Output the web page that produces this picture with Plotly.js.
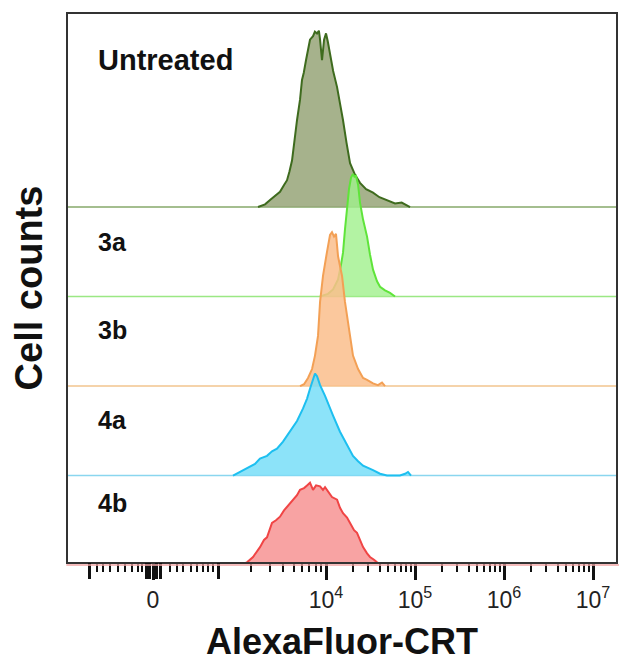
<!DOCTYPE html>
<html><head><meta charset="utf-8">
<script src="https://cdn.plot.ly/plotly-3.0.1.min.js"></script>
<style>html,body{margin:0;padding:0;background:#fff}#chart{width:619px;height:662px}</style>
</head><body><div id="chart"></div>
<script>
// Sample names (top to bottom)
const sampleNames = ["Untreated", "3a", "3b", "4a", "4b"];

// x values are in display decades (4 = 10^4), counts are relative cell counts
const untreatedX = [3.236,3.315,3.371,3.42,3.483,3.53,3.562,3.59,3.618,3.674,3.708,3.730,3.75,3.775,3.80,3.820,3.854,3.875,3.899,3.92,3.933,3.955,3.978,4.0,4.02,4.045,4.08,4.124,4.16,4.191,4.23,4.270,4.326,4.382,4.45,4.528,4.60,4.685,4.775,4.85,4.910,4.944];
const untreatedCounts = [0,3,8,12,17,25,30,40,52,97,120,142,150,164,178,187,191,196,194,197,187,164,187,194,185,172,152,134,115,97,72,49,36,27,20,16,11,8,4,5,2,0];

const x3a = [3.933,4.022,4.079,4.135,4.169,4.191,4.213,4.236,4.258,4.281,4.303,4.320,4.337,4.360,4.382,4.416,4.461,4.494,4.528,4.573,4.607,4.663,4.719,4.775];
const counts3a = [0,3,8,19,36,49,75,97,120,133,137,134,135,125,105,86,67,47,30,17,11,7,4,0];

const x3b = [3.708,3.753,3.798,3.843,3.876,3.910,3.933,3.966,4.011,4.045,4.067,4.090,4.112,4.135,4.180,4.213,4.270,4.303,4.360,4.416,4.461,4.528,4.584,4.629,4.663];
const counts3b = [0,2,9,19,34,56,94,123,150,169,172,167,170,145,123,94,56,34,19,9,7,3,1,4,0];

const x4a = [2.955,3.034,3.146,3.202,3.258,3.337,3.393,3.449,3.517,3.596,3.640,3.674,3.742,3.787,3.820,3.854,3.876,3.899,3.933,3.989,4.034,4.079,4.157,4.236,4.303,4.360,4.416,4.528,4.607,4.685,4.831,4.888,4.921,4.955];
const counts4a = [0,4,10,13,19,22,27,30,38,49,55,61,75,86,97,108,114,111,101,89,77,67,49,34,22,16,11,6,2,0,0,2,4,0];

const x4b = [2.899,3.034,3.112,3.180,3.258,3.303,3.337,3.393,3.438,3.483,3.528,3.562,3.596,3.629,3.674,3.708,3.753,3.787,3.820,3.854,3.888,3.933,3.966,3.989,4.022,4.067,4.124,4.157,4.191,4.236,4.270,4.315,4.348,4.382,4.416,4.461,4.494,4.539,4.573,4.629];
const counts4b = [0,0,3,9,20,28,31,47,50,54,61,65,70,73,78,84,86,89,92,84,89,88,84,87,82,76,73,64,58,53,47,39,36,28,20,13,9,6,3,0];

// Axis ticks (display decades)
const labelTickVals = [2.056, 4, 5, 6, 7];
const labelTickText = ["0", "10<sup>4</sup>", "10<sup>5</sup>", "10<sup>6</sup>", "10<sup>7</sup>"];
const unlabeledMajorTicks = [1.337, 1.978, 2.022, 2.090, 2.135, 2.787];
const minorTickVals = [1.427,1.494,1.573,1.663,1.742,1.820,1.888,1.933,
  2.247,2.326,2.393,2.483,2.551,2.618,2.674,2.730,
  3.152,3.366,3.517,3.635,3.731,3.812,3.883,3.944,
  4.301,4.477,4.602,4.699,4.778,4.845,4.903,4.954,
  5.301,5.477,5.602,5.699,5.778,5.845,5.903,5.954,
  6.301,6.477,6.602,6.699,6.778,6.845,6.903,6.954];

const xSeries = [untreatedX, x3a, x3b, x4a, x4b];
const cSeries = [untreatedCounts, counts3a, counts3b, counts4a, counts4b];
const lineColors = ["#3e6b1e", "#5fe43a", "#f3a055", "#1dbff0", "#f04545"];
const fillColors = ["rgba(150,164,120,0.85)", "rgba(160,240,140,0.8)", "rgba(250,190,140,0.85)", "rgba(120,222,248,0.85)", "rgba(246,140,140,0.8)"];
const baseColors = ["#86a86a", "#9be884", "#f2c48e", "#8ad6ef", "#f2a6a6"];
const offsets = [4, 3, 2, 1, 0];

const traces = sampleNames.map((name, i) => ({
  type: "scatter", mode: "lines", name: name,
  x: xSeries[i],
  y: cSeries[i].map(c => offsets[i] + c / 100),
  fill: "toself", fillcolor: fillColors[i],
  line: {color: lineColors[i], width: 2},
  hoverinfo: "skip", showlegend: false
}));
// empty helper trace so the overlaid tick axis is created
traces.push({type: "scatter", mode: "none", x: [], y: [], xaxis: "x2", yaxis: "y", hoverinfo: "skip", showlegend: false});

const font = "Liberation Sans, Arial, sans-serif";
const labelY = [0.916, 0.584, 0.423, 0.259, 0.108];
const annotations = sampleNames.map((name, i) => ({
  text: "<b>" + name + "</b>", xref: "paper", yref: "paper",
  x: 0.051, y: labelY[i], xanchor: "left", yanchor: "middle",
  showarrow: false, font: {family: font, size: i === 0 ? 29 : 25, color: "#111"}
}));

const shapes = [0,1,2,3].map(i => ({
  type: "line", xref: "paper", yref: "y", x0: 0, x1: 1, y0: offsets[i], y1: offsets[i],
  line: {color: baseColors[i], width: 1.5}, layer: "below"
}));
shapes.push({type: "line", xref: "paper", yref: "paper", x0: -0.003, x1: 1.01, y0: -0.0055, y1: -0.0055,
  line: {color: baseColors[4], width: 1.5}, layer: "above"});

const layout = {
  width: 619, height: 662,
  margin: {l: 68, r: 3, t: 14, b: 100},
  paper_bgcolor: "#fff", plot_bgcolor: "#fff",
  xaxis: {
    range: [1.101, 7.258], showgrid: false, zeroline: false,
    showline: true, mirror: true, linecolor: "#333", linewidth: 2,
    tickmode: "array", tickvals: labelTickVals, ticktext: labelTickText,
    ticks: "outside", ticklen: 16, tickwidth: 3, tickcolor: "#111",
    ticklabelstandoff: 0,
    tickfont: {family: font, size: 23, color: "#222"},
    minor: {tickmode: "array", tickvals: minorTickVals, ticks: "outside", ticklen: 8, tickwidth: 2, tickcolor: "#111", showgrid: false},
    title: {text: "<b>AlexaFluor-CRT</b>", font: {family: font, size: 36, color: "#111"}, standoff: 24}
  },
  xaxis2: {
    overlaying: "x", matches: "x", anchor: "y", side: "bottom",
    range: [1.101, 7.258], showgrid: false, zeroline: false, showline: false,
    tickmode: "array", tickvals: unlabeledMajorTicks, showticklabels: false,
    ticks: "outside", ticklen: 16, tickwidth: 3, tickcolor: "#111"
  },
  yaxis: {
    range: [0.034, 6.157], showgrid: false, zeroline: false,
    showline: true, mirror: true, linecolor: "#333", linewidth: 2,
    showticklabels: false, ticks: "",
    title: {text: "<b>Cell counts</b>", font: {family: font, size: 38, color: "#111"}, standoff: 12}
  },
  annotations: annotations,
  shapes: shapes
};

Plotly.newPlot("chart", traces, layout, {displayModeBar: false, staticPlot: true});
</script>
</body></html>
